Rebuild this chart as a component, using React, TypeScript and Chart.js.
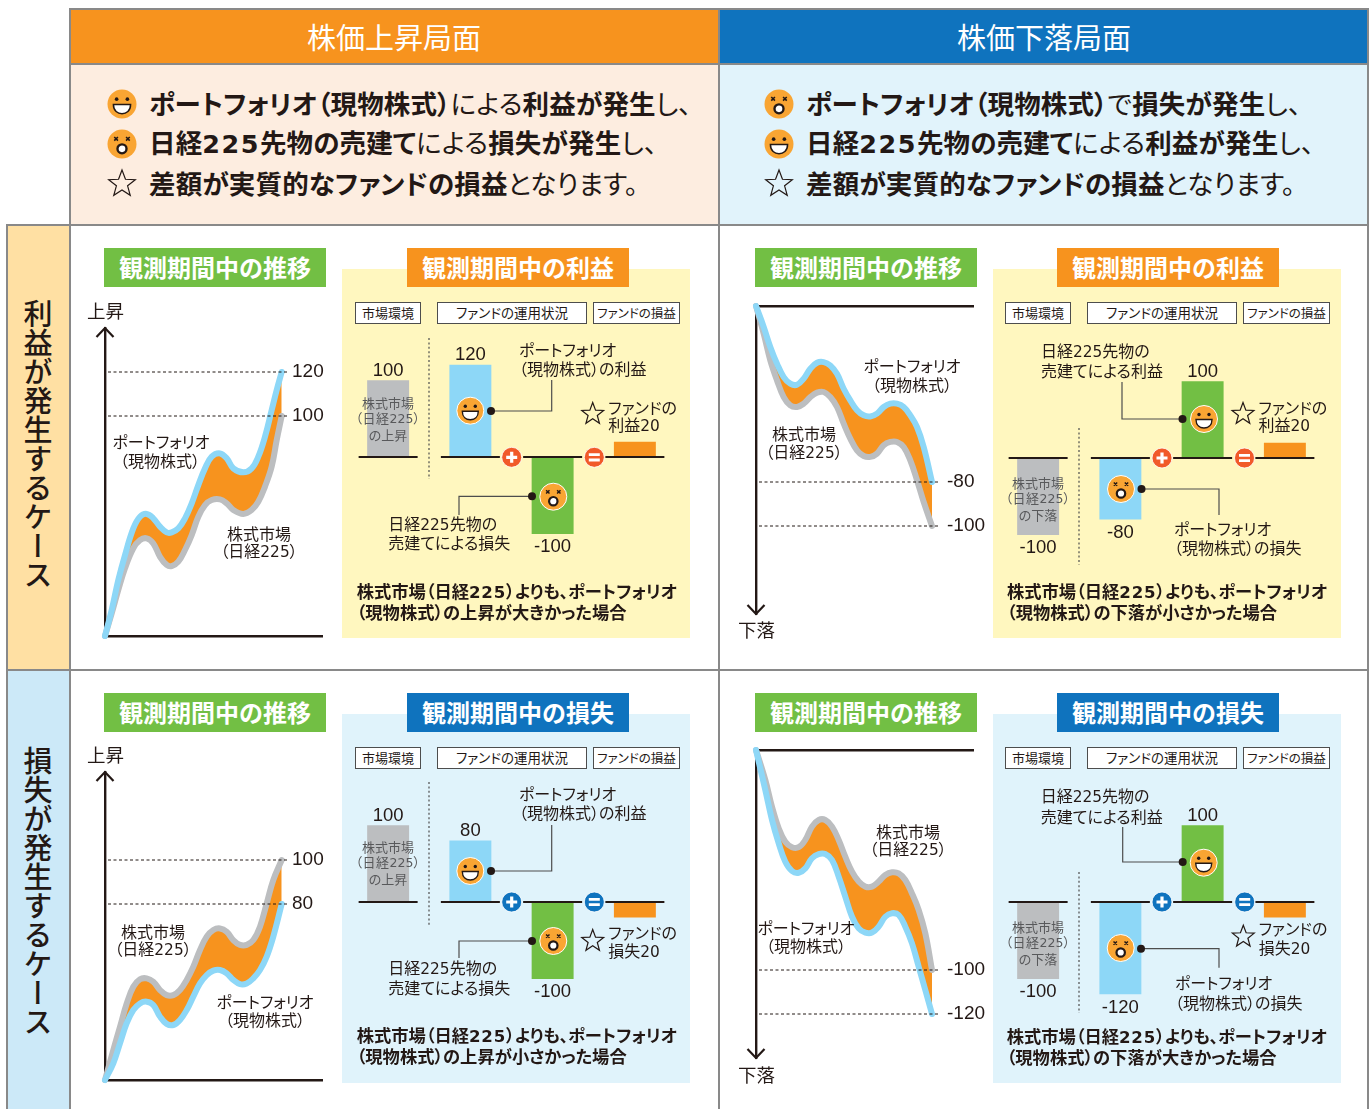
import React, { useEffect, useRef } from "react";
import { Chart, registerables } from "chart.js";

Chart.register(...registerables);

// ---------- data ----------
const upProfitPeriods = [0, 6.7, 13.3, 20, 28.3, 35, 41.7, 48.3, 55, 61.7, 66.7, 73.3, 80, 86.7, 93.3, 100, 106.7, 115, 121.7, 128.3, 138.3, 146.7, 153.3, 160, 166.7, 171.7, 176.7];
const upProfitPortfolio = [0, 11.8, 25.5, 36.8, 48.9, 54.2, 55.5, 53.5, 49.7, 47.1, 47.1, 48.9, 53.5, 60.3, 68.6, 76.2, 81.5, 83, 80.8, 76.2, 74.4, 76.2, 81.5, 90.6, 102.7, 111.8, 120];
const upProfitMarket = [0, 10.3, 20.9, 30.8, 39.9, 43.6, 44.4, 42.1, 36, 32.3, 31.8, 33.8, 39.1, 45.9, 54.2, 59.5, 61.8, 62.1, 60.3, 57.3, 55.5, 57.3, 61, 67.9, 77, 89, 100];
const upProfitTicks = [100, 120];

const downProfitPeriods = [0, 7.7, 14.3, 21, 27.7, 34.3, 41, 47.7, 54.3, 61, 67.7, 74.3, 81, 87.7, 94.3, 101, 107.7, 114.3, 121, 127.7, 134.3, 141, 147.7, 154.3, 161, 167.7, 176];
const downProfitPortfolio = [0, -9.5, -18.6, -26.2, -32.3, -35.3, -35.8, -33, -28.5, -25.8, -25.5, -27, -30.8, -37.6, -42.9, -47.4, -49.7, -50.2, -48.9, -45.9, -44.4, -44.4, -45.9, -49.7, -55, -64.1, -80];
const downProfitMarket = [0, -12.6, -24.7, -33.8, -41.4, -45.2, -45.9, -44.4, -41.4, -39.4, -39.1, -41.4, -45.9, -53.5, -60.3, -65.6, -68.2, -68.6, -67.1, -63.3, -61.8, -61.8, -64.1, -70.2, -79.2, -89.1, -100];
const downProfitTicks = [-80, -100];

const upLossPeriods = [0, 8.3, 15, 21.7, 28.3, 35, 41.7, 48.3, 55, 61.7, 68.3, 75, 81.7, 88.3, 95, 101.7, 108.3, 115, 121.7, 128.3, 135, 141.7, 148.3, 155, 161.7, 168.3, 176.7];
const upLossPortfolio = [0, 7.6, 16.7, 25.8, 31.8, 34.8, 35.6, 34.1, 28.8, 25.5, 25, 27.3, 31.8, 37.9, 43.9, 47.7, 49.7, 50, 48.5, 45.5, 43.6, 43.9, 46.2, 50, 56.1, 65.2, 80];
const upLossMarket = [0, 13.6, 24.2, 34.8, 42.4, 45.8, 46.2, 44.7, 40.9, 38.6, 38.6, 40.9, 45.5, 51.5, 59.1, 65.2, 68.2, 68.9, 67.4, 63.6, 61.4, 61.4, 63.6, 69.7, 80.3, 90.9, 100];
const upLossTicks = [80, 100];

const downLossPeriods = [0, 9.3, 16, 22.7, 29.3, 36, 42.7, 49.3, 56, 62.7, 69.3, 76, 82.7, 89.3, 96, 102.7, 109.3, 116, 122.7, 129.3, 136, 142.7, 149.3, 156, 162.7, 169.3, 176];
const downLossPortfolio = [0, -18.2, -31.8, -42.4, -50.8, -55, -55.8, -53.8, -49.2, -47.3, -47.3, -50, -57.6, -66.7, -75.8, -81.1, -83, -83, -80.3, -75.8, -74.2, -75, -80.3, -87.9, -98.5, -109.1, -120];
const downLossMarket = [0, -13.6, -25.8, -35.6, -41.7, -44.2, -44.2, -40.9, -34.8, -31.8, -31.8, -34.8, -40.9, -48.5, -55.3, -59.8, -62.1, -62.1, -59.8, -56.8, -55.6, -56.1, -59.1, -65.2, -72.7, -83.3, -100];
const downLossTicks = [-100, -120];

const barCategories = ["株式市場", "ポートフォリオ", "日経225先物", "ファンドの損益"];
const upProfitBars = [100, 120, -100, 20];
const downProfitBars = [-100, -80, 100, 20];
const upLossBars = [100, 80, -100, -20];
const downLossBars = [-100, -120, 100, -20];

// ---------- styles ----------
const INK = "#231815";
const ORANGE = "#F7931E";
const BLUE = "#0F73BE";
const GREEN = "#72BF44";
const SKY = "#8DD7F7";
const GRAY = "#BCBEC0";
const RED = "#F15A29";
const JP = '"Noto Sans CJK JP", sans-serif';
const NUM = '"Liberation Sans", sans-serif';

// ---------- charts ----------
function TrendChart({ left, top, rising, periods, portfolio, market, ticks }: any) {
  const ref = useRef<HTMLCanvasElement>(null);
  const W = 217, H = 308, P = 24, R = 44;
  useEffect(() => {
    const arrow = {
      id: "arrow",
      afterDraw(c: any) {
        const { ctx, chartArea: a } = c;
        const x = a.left;
        const tip = rising ? a.top : a.bottom;
        const d = rising ? 9 : -9;
        ctx.save();
        ctx.strokeStyle = INK;
        ctx.lineWidth = 2.2;
        ctx.beginPath();
        ctx.moveTo(x - 8.5, tip + d);
        ctx.lineTo(x, tip);
        ctx.lineTo(x + 8.5, tip + d);
        ctx.stroke();
        ctx.restore();
      },
    };
    const toPts = (s: number[]) => s.map((y, i) => ({ x: periods[i], y }));
    const refEnd = 183;
    const refSets = ticks.map((v: number) => ({
      data: [{ x: 3, y: v }, { x: refEnd, y: v }],
      borderColor: INK,
      borderWidth: 1,
      borderDash: [3, 2.5],
      pointRadius: 0,
      fill: false,
      tension: 0,
      order: 0,
      clip: false,
    }));
    const chart = new Chart(ref.current!, {
      type: "line",
      data: {
        datasets: [
          {
            label: "ポートフォリオ(現物株式)",
            data: toPts(portfolio),
            borderColor: SKY,
            borderWidth: 6,
            backgroundColor: ORANGE,
            fill: "+1",
            pointRadius: 0,
            tension: 0.4,
            borderCapStyle: "round",
            order: 1,
            clip: false,
          },
          {
            label: "株式市場(日経225)",
            data: toPts(market),
            borderColor: GRAY,
            borderWidth: 6,
            fill: false,
            pointRadius: 0,
            tension: 0.4,
            borderCapStyle: "round",
            order: 2,
            clip: false,
          },
          ...refSets,
        ],
      } as any,
      options: {
        animation: false,
        responsive: false,
        layout: { padding: { left: P, top: P, bottom: P, right: R } },
        plugins: {
          legend: { display: false },
          tooltip: { enabled: false },
          filler: { drawTime: "beforeDatasetsDraw" },
        },
        scales: {
          x: {
            type: "linear",
            position: rising ? "bottom" : "top",
            min: 0,
            max: W,
            grid: { display: false, drawTicks: false },
            ticks: { display: false },
            border: { display: true, color: INK, width: 2.4 },
          },
          y: {
            type: "linear",
            position: "left",
            min: rising ? 0 : -140,
            max: rising ? 140 : 0,
            afterBuildTicks: (axis: any) => {
              axis.ticks = ticks.map((value: number) => ({ value }));
            },
            afterFit: (axis: any) => {
              axis.paddingTop = 0;
              axis.paddingBottom = 0;
              axis.width = 0;
            },
            grid: { display: false, drawTicks: false },
            border: { display: true, color: INK, width: 2.4 },
            ticks: {
              mirror: true,
              padding: rising ? 187 : 191,
              autoSkip: false,
              color: INK,
              font: { family: NUM, size: 19 },
              callback: (v: any) => String(v),
            },
          },
        },
      } as any,
      plugins: [arrow],
    });
    return () => chart.destroy();
  }, []);
  return (
    <canvas
      ref={ref}
      width={W + P + R}
      height={H + 2 * P}
      style={{ position: "absolute", left: left - P, top: top - P, display: "block" }}
    />
  );
}

function ResultChart({ left, top, values }: any) {
  const ref = useRef<HTMLCanvasElement>(null);
  const W = 329, H = 246;
  useEffect(() => {
    const deco = {
      id: "deco",
      afterDatasetsDraw(c: any) {
        const { ctx } = c;
        const meta = c.getDatasetMeta(0);
        const y0 = c.scales.y.getPixelForValue(0);
        ctx.save();
        ctx.strokeStyle = INK;
        ctx.lineWidth = 2.2;
        ctx.fillStyle = INK;
        ctx.font = `18.5px ${NUM}`;
        ctx.textAlign = "center";
        ctx.textBaseline = "middle";
        meta.data.forEach((el: any, i: number) => {
          ctx.beginPath();
          ctx.moveTo(el.x - 29.5, y0);
          ctx.lineTo(el.x + 29.5, y0);
          ctx.stroke();
          if (i < 3) {
            const v = values[i];
            ctx.fillText(String(v), el.x, v > 0 ? el.y - 9.5 : el.y + 13.5);
          }
        });
        ctx.restore();
      },
    };
    const chart = new Chart(ref.current!, {
      type: "bar",
      data: {
        labels: barCategories,
        datasets: [
          {
            data: values,
            backgroundColor: [GRAY, SKY, GREEN, ORANGE],
            barPercentage: 0.51,
            categoryPercentage: 1,
            borderWidth: 0,
          },
        ],
      },
      options: {
        animation: false,
        responsive: false,
        layout: { padding: 0 },
        plugins: { legend: { display: false }, tooltip: { enabled: false } },
        scales: {
          x: { display: false },
          y: { display: false, min: -160, max: 160 },
        },
      } as any,
      plugins: [deco],
    });
    return () => chart.destroy();
  }, []);
  return (
    <canvas
      ref={ref}
      width={W}
      height={H}
      style={{ position: "absolute", left, top, display: "block" }}
    />
  );
}

// ---------- text + decorations ----------
function T({ x, y, s = 16, b = false, c = INK, a = "left", f = JP, ls = 0, children }: any) {
  const tx = a === "center" ? "-50%" : a === "right" ? "-100%" : "0";
  return (
    <div
      style={{
        position: "absolute",
        left: x,
        top: y - 1,
        transform: `translate(${tx},-50%)`,
        fontFamily: f,
        fontSize: s,
        fontWeight: b ? 700 : 400,
        color: c,
        lineHeight: 1,
        whiteSpace: "nowrap",
        letterSpacing: ls,
        fontFeatureSettings: '"palt"',
      }}
    >
      {children}
    </div>
  );
}

function Box({ x, y, w, h, bg, style }: any) {
  return <div style={{ position: "absolute", left: x, top: y, width: w, height: h, background: bg, ...style }} />;
}

function Face({ x, y, r = 13.5, happy, ring = true }: any) {
  const k = r / 13.5;
  return (
    <g transform={`translate(${x},${y}) scale(${k})`}>
      <circle r={13.5} fill="#F9A533" stroke={ring ? "#fff" : "none"} strokeWidth={1} />
      {happy ? (
        <>
          <circle cx={-5} cy={-4.5} r={1.7} fill={INK} />
          <circle cx={5} cy={-4.5} r={1.7} fill={INK} />
          <path d="M-8 0.5 H8 C8 6.5 4 9 0 9 C-4 9 -8 6.5 -8 0.5 Z" fill="#fff" stroke={INK} strokeWidth={1.4} />
        </>
      ) : (
        <>
          <path d="M-7.2 -6.5 L-3.8 -3.2 M-3.8 -6.5 L-7.2 -3.2 M3.8 -6.5 L7.2 -3.2 M7.2 -6.5 L3.8 -3.2" stroke={INK} strokeWidth={1.5} />
          <circle cx={0} cy={4.5} r={4.2} fill="#fff" stroke={INK} strokeWidth={2.2} />
        </>
      )}
    </g>
  );
}

function Star({ x, y, r = 12 }: any) {
  const pts: string[] = [];
  for (let i = 0; i < 10; i++) {
    const rad = i % 2 === 0 ? r : r * 0.42;
    const ang = -Math.PI / 2 + (i * Math.PI) / 5;
    pts.push(`${x + rad * Math.cos(ang)},${y + rad * Math.sin(ang)}`);
  }
  return <polygon points={pts.join(" ")} fill="none" stroke={INK} strokeWidth={1.2} />;
}

function Badge({ x, y, c, plus }: any) {
  return (
    <g transform={`translate(${x},${y})`}>
      <circle r={10} fill={c} stroke="#fff" strokeWidth={0.8} />
      {plus ? (
        <path d="M-5.5 0 H5.5 M0 -5.5 V5.5" stroke="#fff" strokeWidth={3.2} />
      ) : (
        <path d="M-5.5 -2.7 H5.5 M-5.5 2.7 H5.5" stroke="#fff" strokeWidth={2.8} />
      )}
    </g>
  );
}

function Leader({ pts }: any) {
  const [dx, dy] = pts[0];
  return (
    <g>
      <polyline points={pts.map((p: number[]) => p.join(",")).join(" ")} fill="none" stroke="#4D4D4D" strokeWidth={1.2} />
      <circle cx={dx} cy={dy} r={4} fill={INK} />
    </g>
  );
}

function Sep({ x, y1, y2 }: any) {
  return <line x1={x} y1={y1} x2={x} y2={y2} stroke="#4D4D4D" strokeWidth={1.2} strokeDasharray="2 2.4" />;
}

function MiniHead({ ox, y }: any) {
  const box = (x: number, w: number, text: string, size: number) => (
    <div
      style={{
        position: "absolute",
        left: ox + x,
        top: y,
        width: w,
        height: 22,
        boxSizing: "border-box",
        border: "1.3px solid #4D4D4D",
        background: "#fff",
        fontFamily: JP,
        fontSize: size,
        lineHeight: "19px",
        textAlign: "center",
        color: INK,
        fontFeatureSettings: '"palt"',
        whiteSpace: "nowrap",
      }}
    >
      {text}
    </div>
  );
  return (
    <>
      {box(0, 66, "市場環境", 13)}
      {box(82, 150, "ファンドの運用状況", 13.5)}
      {box(238, 87, "ファンドの損益", 12.5)}
    </>
  );
}

function Label({ x, y, w, bg, text }: any) {
  return (
    <div
      style={{
        position: "absolute",
        left: x,
        top: y,
        width: w,
        height: 39,
        background: bg,
        color: "#fff",
        fontFamily: JP,
        fontWeight: 700,
        fontSize: 24,
        lineHeight: "38px",
        textAlign: "center",
        whiteSpace: "nowrap",
      }}
    >
      {text}
    </div>
  );
}

const B = ({ children }: any) => <b style={{ fontWeight: 700 }}>{children}</b>;
const HEAD = 26.5;
const HLS = 0.15;
const CAP = 17.3;
const Wide = ({ children, w = 0 }: any) => (
  <span style={{ fontFamily: '"DejaVu Sans", sans-serif', letterSpacing: w, fontSize: "0.96em" }}>{children}</span>
);

export default function App() {
  const line = "#898989";
  const hLine = (x: number, y: number, w: number) => <Box x={x} y={y} w={w} h={2} bg={line} />;
  const vLine = (x: number, y: number, h: number) => <Box x={x} y={y} w={2} h={h} bg={line} />;
  return (
    <div style={{ position: "absolute", left: 0, top: 0, width: 1372, height: 1109, overflow: "hidden", background: "#fff" }}>
      {/* table */}
      <Box x={70} y={9} w={649} h={55} bg={ORANGE} />
      <Box x={719} y={9} w={649} h={55} bg={BLUE} />
      <Box x={70} y={64} w={649} h={161} bg="#FDEDE0" />
      <Box x={719} y={64} w={649} h={161} bg="#E1F3FB" />
      <Box x={7} y={225} w={63} h={445} bg="#FFE0A3" />
      <Box x={7} y={670} w={63} h={439} bg="#CCE9F8" />
      {hLine(70, 8, 1299)}
      {hLine(70, 63, 1299)}
      {hLine(7, 224, 1362)}
      {hLine(7, 669, 1362)}
      {vLine(6, 224, 885)}
      {vLine(69, 8, 1101)}
      {vLine(718, 8, 1101)}
      {vLine(1367, 8, 1101)}

      <T x={394} y={37} s={29} c="#fff" a="center">株価上昇局面</T>
      <T x={1044} y={37} s={29} c="#fff" a="center">株価下落局面</T>

      <T x={149} y={104} s={HEAD} ls={HLS}><B>ポートフォリオ（現物株式）</B>による<B>利益が発生</B>し、</T>
      <T x={149} y={144} s={HEAD} ls={HLS}><B>日経<Wide w={1.5}>225</Wide>先物の売建て</B>による<B>損失が発生</B>し、</T>
      <T x={149} y={184} s={HEAD} ls={HLS}><B>差額が実質的なファンドの損益</B>となります。</T>
      <T x={806} y={104} s={HEAD} ls={HLS}><B>ポートフォリオ（現物株式）</B>で<B>損失が発生</B>し、</T>
      <T x={806} y={144} s={HEAD} ls={HLS}><B>日経<Wide w={1.5}>225</Wide>先物の売建て</B>による<B>利益が発生</B>し、</T>
      <T x={806} y={184} s={HEAD} ls={HLS}><B>差額が実質的なファンドの損益</B>となります。</T>

      {/* side captions */}
      {[{ y: 299, t: "利益が発生するケース" }, { y: 746, t: "損失が発生するケース" }].map((o) => (
        <div
          key={o.y}
          style={{
            position: "absolute",
            left: 23,
            top: o.y,
            width: 30,
            writingMode: "vertical-rl",
            fontFamily: JP,
            fontSize: 29,
            lineHeight: "30px",
            color: INK,
            whiteSpace: "nowrap",
            fontWeight: 500,
          }}
        >
          {o.t}
        </div>
      ))}

      {/* panels */}
      <Box x={342} y={269} w={348} h={369} bg="#FFF7BF" />
      <Box x={993} y={269} w={348} h={369} bg="#FFF7BF" />
      <Box x={342} y={714} w={348} h={369} bg="#E0F3FB" />
      <Box x={993} y={714} w={348} h={369} bg="#E0F3FB" />

      <Label x={104} y={248} w={222} bg={GREEN} text="観測期間中の推移" />
      <Label x={755} y={248} w={222} bg={GREEN} text="観測期間中の推移" />
      <Label x={104} y={693} w={222} bg={GREEN} text="観測期間中の推移" />
      <Label x={755} y={693} w={222} bg={GREEN} text="観測期間中の推移" />
      <Label x={407} y={248} w={222} bg={ORANGE} text="観測期間中の利益" />
      <Label x={1057} y={248} w={222} bg={ORANGE} text="観測期間中の利益" />
      <Label x={407} y={693} w={222} bg={BLUE} text="観測期間中の損失" />
      <Label x={1057} y={693} w={222} bg={BLUE} text="観測期間中の損失" />

      <MiniHead ox={355} y={302} />
      <MiniHead ox={1005} y={302} />
      <MiniHead ox={355} y={747} />
      <MiniHead ox={1005} y={747} />

      {/* charts */}
      <TrendChart left={105} top={328} rising periods={upProfitPeriods} portfolio={upProfitPortfolio} market={upProfitMarket} ticks={upProfitTicks} />
      <TrendChart left={756} top={306} rising={false} periods={downProfitPeriods} portfolio={downProfitPortfolio} market={downProfitMarket} ticks={downProfitTicks} />
      <TrendChart left={105} top={772} rising periods={upLossPeriods} portfolio={upLossPortfolio} market={upLossMarket} ticks={upLossTicks} />
      <TrendChart left={756} top={750} rising={false} periods={downLossPeriods} portfolio={downLossPortfolio} market={downLossMarket} ticks={downLossTicks} />

      <ResultChart left={347} top={334} values={upProfitBars} />
      <ResultChart left={997} top={335} values={downProfitBars} />
      <ResultChart left={347} top={779} values={upLossBars} />
      <ResultChart left={997} top={779} values={downLossBars} />

      {/* decorations */}
      <svg width={1372} height={1109} style={{ position: "absolute", left: 0, top: 0 }}>
        <Face x={122} y={104} r={14.5} happy ring={false} />
        <Face x={122} y={144} r={14.5} ring={false} />
        <Star x={122} y={184} r={14} />
        <Face x={779} y={104} r={14.5} ring={false} />
        <Face x={779} y={144} r={14.5} happy ring={false} />
        <Star x={779} y={184} r={14} />

        {/* top left */}
        <Sep x={429} y1={338} y2={479} />
        <Leader pts={[[491, 411], [551.7, 411], [551.7, 380]]} />
        <Leader pts={[[532, 496.3], [459, 496.3], [459, 515]]} />
        <Face x={470.3} y={410.7} happy />
        <Face x={553.3} y={496.7} />
        <Badge x={511.7} y={457.3} c={RED} plus />
        <Badge x={594.3} y={457.3} c={RED} />
        <Star x={592.7} y={414} r={11.5} />

        {/* top right */}
        <Sep x={1079} y1={428} y2={565} />
        <Leader pts={[[1182.5, 419], [1122, 419], [1122, 382]]} />
        <Leader pts={[[1141.5, 489], [1219, 489], [1219, 515]]} />
        <Face x={1204} y={419} happy />
        <Face x={1121} y={489} />
        <Badge x={1162} y={458} c={RED} plus />
        <Badge x={1244.5} y={458} c={RED} />
        <Star x={1243} y={414} r={11.5} />

        {/* bottom left */}
        <Sep x={429} y1={782} y2={925} />
        <Leader pts={[[491, 871], [551.7, 871], [551.7, 825]]} />
        <Leader pts={[[532, 941], [459, 941], [459, 958]]} />
        <Face x={470.3} y={871} happy />
        <Face x={553.3} y={941} />
        <Badge x={511.7} y={902} c={BLUE} plus />
        <Badge x={594.3} y={902} c={BLUE} />
        <Star x={592.7} y={941} r={11.5} />

        {/* bottom right */}
        <Sep x={1079} y1={872} y2={1013} />
        <Leader pts={[[1182.7, 862], [1122.7, 862], [1122.7, 827]]} />
        <Leader pts={[[1141, 948.7], [1219, 948.7], [1219, 967.7]]} />
        <Face x={1203.7} y={862.7} happy />
        <Face x={1120.7} y={948} />
        <Badge x={1162} y={902} c={BLUE} plus />
        <Badge x={1244.7} y={902} c={BLUE} />
        <Star x={1243.3} y={936.7} r={11.5} />
      </svg>

      {/* trend annotations */}
      <T x={87} y={311} s={18.5}>上昇</T>
      <T x={161} y={442} a="center">ポートフォリオ</T>
      <T x={160} y={461} a="center">（現物株式）</T>
      <T x={259} y={534} a="center">株式市場</T>
      <T x={259} y={552} a="center">（日経<Wide>225</Wide>）</T>

      <T x={738} y={630} s={18.5}>下落</T>
      <T x={912} y={366} a="center">ポートフォリオ</T>
      <T x={912} y={385} a="center">（現物株式）</T>
      <T x={804} y={434} a="center">株式市場</T>
      <T x={804} y={453} a="center">（日経<Wide>225</Wide>）</T>

      <T x={87} y={755} s={18.5}>上昇</T>
      <T x={153} y={932} a="center">株式市場</T>
      <T x={153} y={950} a="center">（日経<Wide>225</Wide>）</T>
      <T x={265} y={1002} a="center">ポートフォリオ</T>
      <T x={265} y={1020} a="center">（現物株式）</T>

      <T x={738} y={1075} s={18.5}>下落</T>
      <T x={908} y={832} a="center">株式市場</T>
      <T x={908} y={850} a="center">（日経<Wide>225</Wide>）</T>
      <T x={806} y={928} a="center">ポートフォリオ</T>
      <T x={806} y={946} a="center">（現物株式）</T>

      {/* panel TL */}
      <T x={388} y={403} s={13} c="#58595B" a="center">株式市場</T>
      <T x={388} y={419} s={13} c="#58595B" a="center" ls={0.5}>（日経<Wide>225</Wide>）</T>
      <T x={388} y={435} s={13} c="#58595B" a="center">の上昇</T>
      <T x={519} y={350}>ポートフォリオ</T>
      <T x={519} y={368.5}>（現物株式）の利益</T>
      <T x={388.3} y={525}>日経<Wide>225</Wide>先物の</T>
      <T x={388.3} y={542.7}>売建てによる損失</T>
      <T x={608.3} y={408}>ファンドの</T>
      <T x={608.3} y={426}>利益<Wide>20</Wide></T>
      <T x={356.7} y={593} s={CAP} b>株式市場（日経<Wide w={0.8}>225</Wide>）よりも、ポートフォリオ</T>
      <T x={356.7} y={613} s={CAP} b>（現物株式）の上昇が大きかった場合</T>

      {/* panel TR */}
      <T x={1038} y={483} s={13} c="#58595B" a="center">株式市場</T>
      <T x={1038} y={499} s={13} c="#58595B" a="center" ls={0.5}>（日経<Wide>225</Wide>）</T>
      <T x={1038} y={515} s={13} c="#58595B" a="center">の下落</T>
      <T x={1041} y={352}>日経<Wide>225</Wide>先物の</T>
      <T x={1041} y={371}>売建てによる利益</T>
      <T x={1174} y={529}>ポートフォリオ</T>
      <T x={1174} y={548}>（現物株式）の損失</T>
      <T x={1258.5} y={408}>ファンドの</T>
      <T x={1258.5} y={426}>利益<Wide>20</Wide></T>
      <T x={1007} y={593} s={CAP} b>株式市場（日経<Wide w={0.8}>225</Wide>）よりも、ポートフォリオ</T>
      <T x={1007} y={613} s={CAP} b>（現物株式）の下落が小さかった場合</T>

      {/* panel BL */}
      <T x={388} y={847} s={13} c="#58595B" a="center">株式市場</T>
      <T x={388} y={863} s={13} c="#58595B" a="center" ls={0.5}>（日経<Wide>225</Wide>）</T>
      <T x={388} y={879} s={13} c="#58595B" a="center">の上昇</T>
      <T x={519} y={794}>ポートフォリオ</T>
      <T x={519} y={813}>（現物株式）の利益</T>
      <T x={388.3} y={969}>日経<Wide>225</Wide>先物の</T>
      <T x={388.3} y={988}>売建てによる損失</T>
      <T x={608.3} y={933}>ファンドの</T>
      <T x={608.3} y={952}>損失<Wide>20</Wide></T>
      <T x={356.7} y={1037} s={CAP} b>株式市場（日経<Wide w={0.8}>225</Wide>）よりも、ポートフォリオ</T>
      <T x={356.7} y={1057} s={CAP} b>（現物株式）の上昇が小さかった場合</T>

      {/* panel BR */}
      <T x={1038} y={927} s={13} c="#58595B" a="center">株式市場</T>
      <T x={1038} y={943} s={13} c="#58595B" a="center" ls={0.5}>（日経<Wide>225</Wide>）</T>
      <T x={1038} y={959} s={13} c="#58595B" a="center">の下落</T>
      <T x={1040.7} y={797}>日経<Wide>225</Wide>先物の</T>
      <T x={1040.7} y={816.7}>売建てによる利益</T>
      <T x={1175} y={983}>ポートフォリオ</T>
      <T x={1175} y={1003}>（現物株式）の損失</T>
      <T x={1258.7} y={929}>ファンドの</T>
      <T x={1258.7} y={949}>損失<Wide>20</Wide></T>
      <T x={1006.7} y={1037.7} s={CAP} b>株式市場（日経<Wide w={0.8}>225</Wide>）よりも、ポートフォリオ</T>
      <T x={1006.7} y={1057.7} s={CAP} b>（現物株式）の下落が大きかった場合</T>
    </div>
  );
}
